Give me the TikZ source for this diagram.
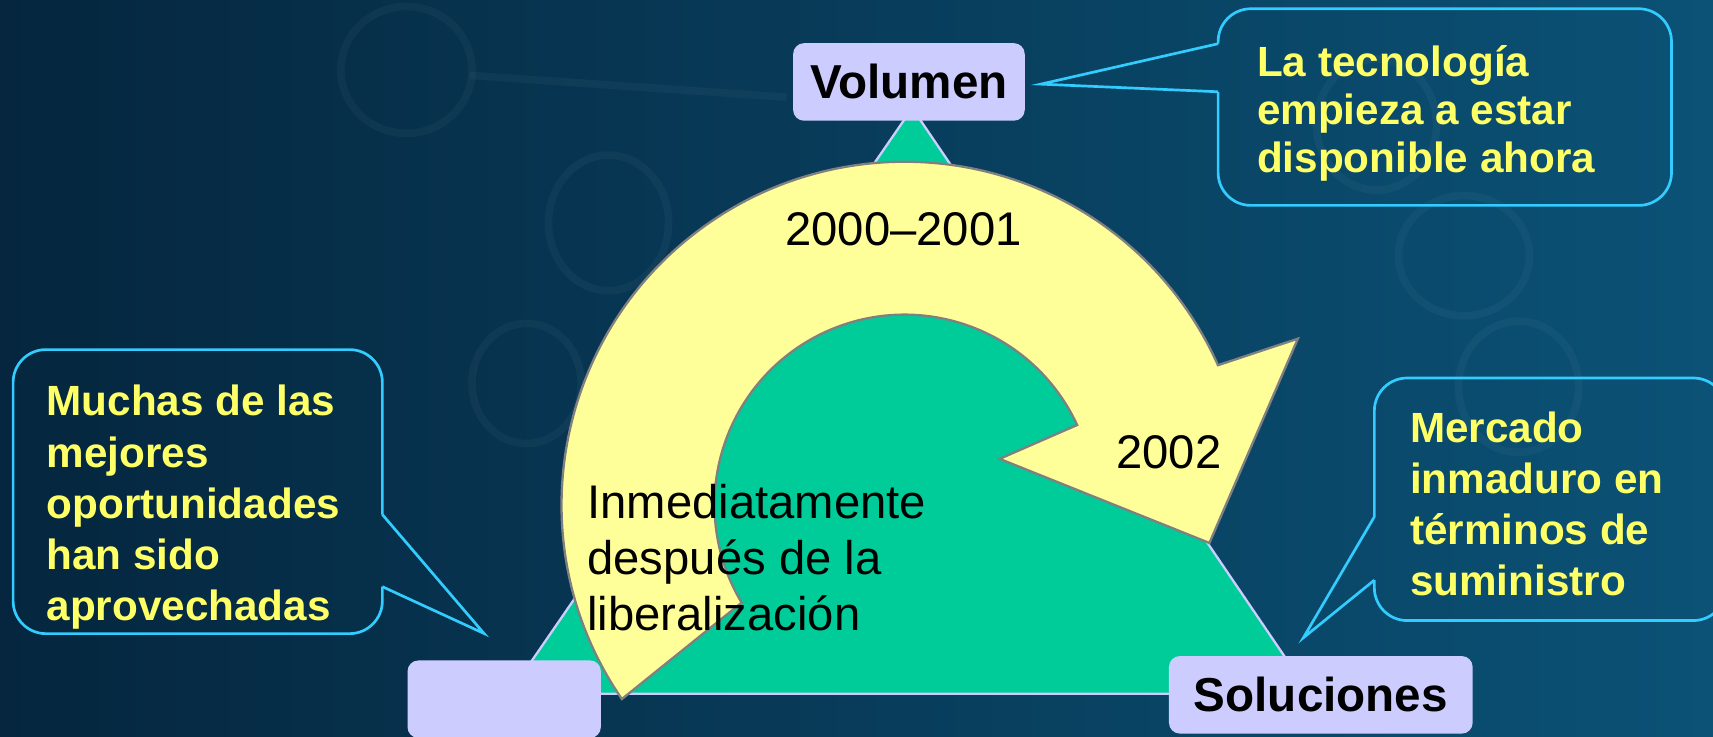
\documentclass[tikz,border=0pt]{standalone}
\usepackage{fontspec}
\setmainfont{Liberation Sans}

\definecolor{bgdark}{RGB}{5,38,62}
\definecolor{bglight}{RGB}{11,82,118}
\definecolor{tgreen}{RGB}{0,204,153}
\definecolor{ayellow}{RGB}{255,255,153}
\definecolor{lavender}{RGB}{204,204,255}
\definecolor{skyline}{RGB}{51,204,255}
\definecolor{notetext}{RGB}{255,255,102}

\tikzset{
  labelbox/.style={fill=lavender, rounded corners=0.1cm, inner sep=0pt,
    minimum height=0.71cm, font=\fontsize{12.4}{15}\selectfont\bfseries},
  yeartext/.style={inner sep=0pt, font=\fontsize{12.3}{14.5}\selectfont},
  notetxt/.style={text=notetext, align=left, inner sep=0pt, anchor=north west,
    font=\fontsize{11}{13.3}\selectfont\bfseries},
  balloon/.style={draw=skyline, line width=0.7pt, rounded corners=0.3cm},
  pointer/.style={draw=skyline, line width=0.7pt, line join=miter},
  ring/.style={draw=white, opacity=0.035, line width=2pt}
}

\begin{document}
\begin{tikzpicture}
\clip (0,0) rectangle (15.68,6.74);
% background
\shade[left color=bgdark, right color=bglight] (0,0) rectangle (15.68,6.74);
\draw[ring] (3.72,6.10) ellipse (0.60 and 0.58);
\draw[ring] (4.30,6.05) -- (7.20,5.85);
\draw[ring] (5.57,4.70) ellipse (0.55 and 0.62);
\draw[ring] (4.82,3.23) ellipse (0.50 and 0.55);
\draw[ring] (12.60,5.60) ellipse (0.55 and 0.60);
\draw[ring] (13.40,4.40) ellipse (0.60 and 0.55);
\draw[ring] (13.90,3.20) ellipse (0.55 and 0.60);

% triangle
\coordinate (apex) at (8.35,5.75);
\coordinate (lcorner) at (4.66,0.39);
\coordinate (rcorner) at (11.99,0.39);
\draw[draw=lavender, line width=0.6pt, fill=tgreen] (apex) -- (lcorner) -- (rcorner) -- cycle;

% circular arrow
\coordinate (hub) at (8.28,2.12);
\draw[fill=ayellow, draw=gray, line width=0.6pt, line join=miter]
  ([shift={(214.5:3.14)}]hub) arc[start angle=214.5, end angle=24, radius=3.14]
  -- (11.88,3.64) -- (11.07,1.77) -- (9.15,2.54)
  -- ([shift={(24.8:1.74)}]hub) arc[start angle=24.8, end angle=211, radius=1.74]
  -- cycle;
\node[yeartext] (y2000) at (8.27,4.64) {2000–2001};
\node[yeartext] (y2002) at (10.70,2.60) {2002};
\node[yeartext, align=left, anchor=north west] (inmed) at (5.37,2.31)
  {Inmediatamente\\después de la\\liberalización};

% corner boxes
\node[labelbox, minimum width=2.12cm] (volumen) at (8.32,5.99) {Volumen};
\node[labelbox, minimum width=1.77cm] (vacio) at (4.615,0.34) {};
\node[labelbox, minimum width=2.78cm] (soluciones) at (12.09,0.38) {Soluciones};

% callouts
\node[notetxt, font=\fontsize{11}{12.5}\selectfont\bfseries] (tecno) at (11.50,6.33)
  {La tecnología\\empieza a estar\\disponible ahora};
\coordinate (tecnotip) at ([xshift=0.14cm, yshift=-0.02cm]volumen.east);
\draw[balloon] (11.15,6.34) -- (11.15,6.66) -- (15.30,6.66) -- (15.30,4.86) -- (11.15,4.86) -- (11.15,5.90);
\draw[pointer] (11.15,5.90) -- (tecnotip) -- (11.15,6.34);

\node[notetxt] (mejores) at (0.42,3.22)
  {Muchas de las\\mejores\\oportunidades\\han sido\\aprovechadas};
\coordinate (mejorestip) at ([xshift=-0.185cm, yshift=0.24cm]vacio.north);
\draw[balloon] (3.50,2.03) -- (3.50,3.54) -- (0.12,3.54) -- (0.12,0.94) -- (3.50,0.94) -- (3.50,1.37);
\draw[pointer] (3.50,1.37) -- (mejorestip) -- (3.50,2.03);

\node[notetxt] (mercado) at (12.90,2.98)
  {Mercado\\inmaduro en\\términos de\\suministro};
\coordinate (mercadotip) at ([xshift=-0.16cm, yshift=0.16cm]soluciones.north);
\draw[balloon] (12.58,2.01) -- (12.58,3.28) -- (15.80,3.28) -- (15.80,1.06) -- (12.58,1.06) -- (12.58,1.43);
\draw[pointer] (12.58,1.43) -- (mercadotip) -- (12.58,2.01);
\end{tikzpicture}
\end{document}
